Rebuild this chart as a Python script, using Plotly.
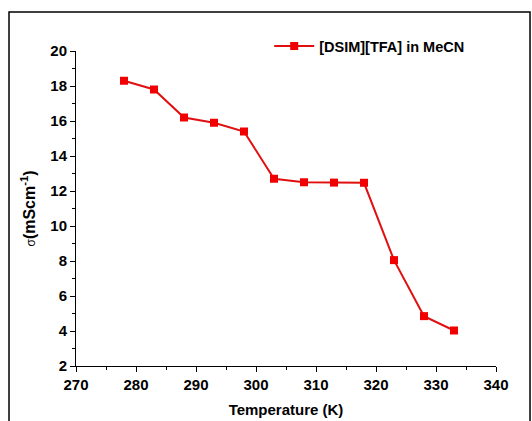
import plotly.graph_objects as go

temperature = [278, 283, 288, 293, 298, 303, 308, 313, 318, 323, 328, 333]
conductivity = [18.3, 17.8, 16.2, 15.9, 15.4, 12.7, 12.5, 12.48, 12.47, 8.05, 4.85, 4.03]
series_name = "[DSIM][TFA] in MeCN"

fig = go.Figure()
fig.add_trace(go.Scatter(
    x=temperature, y=conductivity, mode="lines+markers", name=series_name,
    line=dict(color="#e01010", width=2),
    marker=dict(symbol="square", size=8, color="#f00000"),
))

font = "Liberation Sans, Arial, sans-serif"
axis_common = dict(
    showgrid=False, zeroline=False, showline=True, linecolor="black", linewidth=1,
    ticks="outside", ticklen=5, tickwidth=1, tickcolor="black",
    tickfont=dict(family=font, size=15, color="black", weight="bold"),
    mirror=False, automargin=False,
)
fig.update_layout(
    width=532, height=421,
    margin=dict(l=76, r=36, t=51, b=55),
    plot_bgcolor="white", paper_bgcolor="white",
    showlegend=True,
    legend=dict(x=0.46, y=1.016, xanchor="left", yanchor="middle",
                font=dict(family=font, size=14.5, color="black", weight="bold"),
                bgcolor="rgba(0,0,0,0)", itemwidth=40),
    xaxis=dict(range=[270, 340], tick0=270, dtick=10,
               minor=dict(ticks="outside", ticklen=3, dtick=5, tickcolor="black"),
               title=dict(text="Temperature (K)", standoff=12,
                          font=dict(family=font, size=15, color="black", weight="bold")),
               **axis_common),
    yaxis=dict(range=[2, 20], tick0=2, dtick=2,
               minor=dict(ticks="outside", ticklen=3, dtick=1, tickcolor="black"),
               title=dict(text="<span style='font-weight:normal;font-size:12px'>σ</span>(mScm<sup>-1</sup>)",
                          standoff=10,
                          font=dict(family=font, size=16, color="black", weight="bold")),
               **axis_common),
    shapes=[dict(type="rect", xref="paper", yref="paper",
                 x0=-0.1595, x1=1.081, y0=-0.2, y1=1.124,
                 line=dict(color="black", width=1.5), fillcolor="rgba(0,0,0,0)")],
)
fig.write_html("out.html")
